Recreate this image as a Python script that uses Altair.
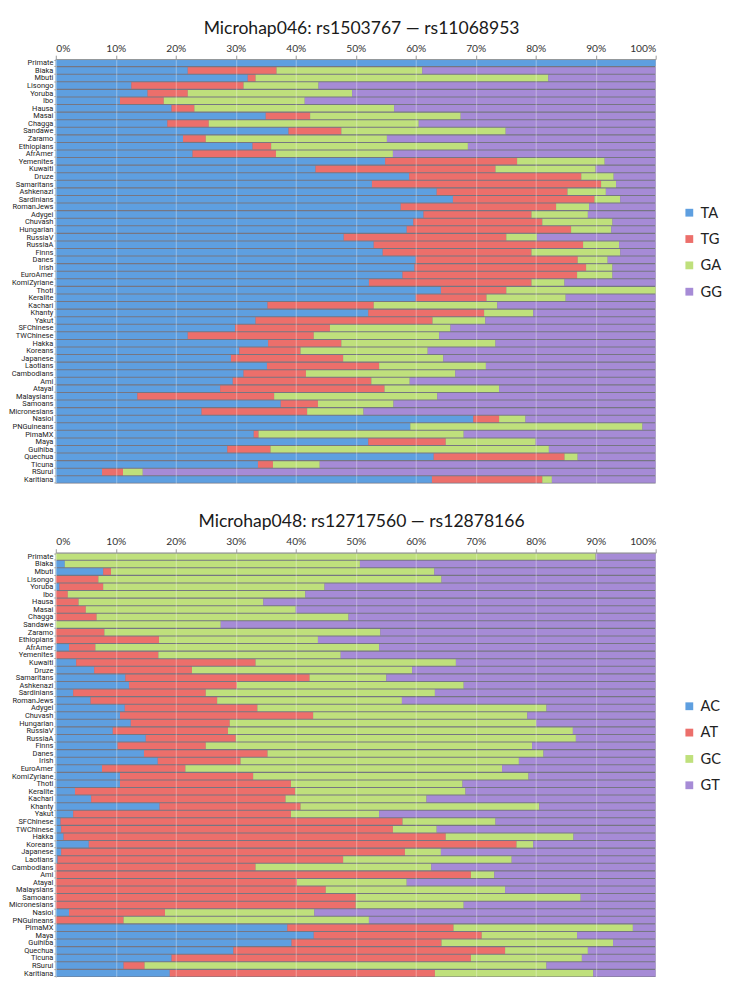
import altair as alt
import pandas as pd


populations = [
    "Primate", "Biaka", "Mbuti", "Lisongo", "Yoruba", "Ibo", "Hausa", "Masai", "Chagga", "Sandawe",
    "Zaramo", "Ethiopians", "AfrAmer", "Yemenites", "Kuwaiti", "Druze", "Samaritans", "Ashkenazi", "Sardinians", "RomanJews",
    "Adygei", "Chuvash", "Hungarian", "RussiaV", "RussiaA", "Finns", "Danes", "Irish", "EuroAmer", "KomiZyriane",
    "Thoti", "Keralite", "Kachari", "Khanty", "Yakut", "SFChinese", "TWChinese", "Hakka", "Koreans", "Japanese",
    "Laotians", "Cambodians", "Ami", "Atayal", "Malaysians", "Samoans", "Micronesians", "Nasioi", "PNGuineans", "PimaMX",
    "Maya", "Guihiba", "Quechua", "Ticuna", "RSurui", "Karitiana",
]

# Microhap046 - cumulative % where each haplotype ends (GG fills the rest)
m046_ta = [
    100, 22.0, 32.0, 12.6, 15.3, 10.7, 19.3, 35.0, 18.6, 38.8,
    21.2, 32.8, 22.8, 54.9, 43.3, 58.9, 52.7, 63.5, 66.2, 57.5,
    61.3, 59.6, 58.5, 48.0, 53.0, 54.5, 60.0, 59.8, 57.8, 52.2,
    64.2, 60.0, 35.3, 52.1, 33.3, 29.9, 22.0, 35.4, 30.6, 29.2,
    35.2, 31.3, 29.5, 27.4, 13.6, 37.5, 24.3, 69.6, 59.1, 33.0,
    52.1, 28.6, 63.0, 33.7, 7.7, 62.7,
]
m046_tg = [
    100, 36.8, 33.3, 31.3, 22.0, 18.0, 23.1, 42.4, 25.5, 47.6,
    25.0, 35.9, 36.7, 76.9, 73.3, 87.6, 90.9, 85.3, 89.8, 83.4,
    79.3, 81.1, 85.9, 75.1, 87.9, 79.3, 87.0, 88.4, 86.9, 79.3,
    75.1, 71.8, 53.0, 71.4, 62.8, 45.7, 43.0, 47.6, 40.8, 47.9,
    53.9, 41.7, 52.6, 54.8, 36.4, 43.7, 41.9, 73.9, 59.1, 33.8,
    65.0, 35.8, 84.8, 36.2, 11.2, 81.1,
]
m046_ga = [
    100, 61.1, 82.1, 43.8, 49.4, 41.5, 56.4, 67.5, 60.5, 75.0,
    55.2, 68.7, 56.2, 91.5, 90.0, 93.0, 93.4, 91.7, 94.1, 88.9,
    88.7, 92.8, 92.6, 80.2, 93.9, 94.1, 92.0, 92.8, 92.8, 84.8,
    100, 85.0, 73.6, 79.6, 71.6, 65.8, 63.9, 73.3, 62.0, 64.6,
    71.7, 66.6, 59.0, 73.9, 63.6, 56.3, 51.3, 78.3, 97.8, 68.0,
    80.0, 82.2, 87.0, 44.0, 14.5, 82.7,
]

# Microhap048 - cumulative % where each haplotype ends (GT fills the rest)
m048_ac = [
    0, 1.5, 7.9, 0, 0.6, 0, 0, 0, 0, 0,
    0, 0, 2.2, 0, 3.4, 6.4, 11.6, 12.2, 2.9, 5.8,
    11.5, 10.7, 12.5, 9.5, 15.0, 10.3, 14.7, 17.0, 7.7, 10.7,
    10.7, 3.2, 5.9, 17.3, 2.9, 0.8, 0.9, 1.3, 5.5, 0.9,
    0.3, 0, 0, 0, 0, 0, 0, 2.2, 0, 38.6,
    43.0, 39.3, 29.6, 19.3, 11.3, 19.0,
]
m048_at = [
    0, 1.5, 9.2, 7.1, 7.9, 2.0, 3.8, 5.0, 6.8, 0,
    8.1, 17.2, 6.6, 17.1, 33.3, 22.7, 42.3, 30.2, 25.0, 26.9,
    33.6, 42.9, 29.0, 28.7, 30.0, 25.0, 35.3, 30.8, 21.6, 32.9,
    39.2, 39.9, 38.3, 40.8, 39.2, 57.8, 56.2, 65.0, 76.8, 58.2,
    47.9, 33.3, 69.2, 40.2, 45.0, 50.0, 50.0, 18.2, 11.3, 66.3,
    71.0, 64.3, 74.9, 69.2, 14.8, 63.2,
]
m048_gc = [
    90.0, 50.7, 63.1, 64.3, 44.8, 41.6, 34.6, 40.0, 48.8, 27.5,
    54.1, 43.7, 53.9, 47.5, 66.7, 59.4, 55.1, 68.0, 63.2, 57.7,
    81.8, 78.6, 80.1, 86.2, 86.7, 79.4, 81.3, 77.2, 74.4, 78.8,
    67.8, 68.3, 61.8, 80.6, 53.9, 73.3, 63.5, 86.3, 79.6, 64.2,
    76.0, 62.6, 73.1, 58.5, 74.9, 87.5, 68.0, 43.1, 52.2, 96.2,
    86.9, 92.9, 88.7, 87.7, 81.8, 89.6,
]

alleles_046 = ["TA", "TG", "GA", "GG"]
alleles_048 = ["AC", "AT", "GC", "GT"]
colors = ["#5e9fe0", "#ec6f6b", "#bfe07c", "#a68bd6"]


def build_rows(ends, alleles):
    rows = []
    for i, pop in enumerate(populations):
        start = 0
        for allele, series in zip(alleles, ends + [None]):
            end = 100 if series is None else series[i]
            rows.append({"pop": pop, "allele": allele, "start": start, "end": end})
            start = end
    return pd.DataFrame(rows)


def panel(df, alleles, title):
    return (
        alt.Chart(df, title=alt.Title(title, fontSize=18, font="Lato", fontWeight="normal",
                                      color="#1a1a1a", offset=6, dx=6))
        .mark_bar()
        .encode(
            x=alt.X(
                "start:Q",
                scale=alt.Scale(domain=[0, 100], nice=False),
                axis=alt.Axis(
                    orient="top", values=list(range(0, 101, 10)), labelExpr="datum.value + '%'",
                    title=None, labelFontSize=10.5, labelFont="Lato", labelColor="#333",
                    tickSize=4, tickColor="#999", domainColor="#999", labelPadding=2,
                    gridColor="#ffffff", gridOpacity=0.35, zindex=1,
                ),
            ),
            x2="end:Q",
            y=alt.Y(
                "pop:N", sort=populations, title=None,
                scale=alt.Scale(paddingInner=0.14, paddingOuter=0.07),
                axis=alt.Axis(
                    labelFontSize=7.6, labelFont="Roboto", labelColor="#222", labelPadding=1,
                    tickSize=2, tickBand="extent", tickColor="#999", domainColor="#999", grid=False,
                ),
            ),
            color=alt.Color(
                "allele:N",
                scale=alt.Scale(domain=alleles, range=colors),
                legend=alt.Legend(
                    title=None, orient="none", legendX=642, legendY=150,
                    symbolType="square", symbolSize=64, symbolStrokeWidth=0,
                    labelFontSize=15, labelFont="Lato", labelColor="#222", rowPadding=11,
                ),
            ),
            tooltip=["pop:N", "allele:N", "start:Q", "end:Q"],
        )
        .properties(width=615, height=435)
    )


top = panel(build_rows([m046_ta, m046_tg, m046_ga], alleles_046), alleles_046,
            "Microhap046: rs1503767 \u2014 rs11068953")
bottom = panel(build_rows([m048_ac, m048_at, m048_gc], alleles_048), alleles_048,
               "Microhap048: rs12717560 \u2014 rs12878166")

chart = (
    alt.vconcat(top, bottom, spacing=31)
    .resolve_scale(color="independent")
    .properties(padding={"left": 0, "right": 0, "top": 0, "bottom": 0})
    .configure_view(stroke=None, fill="#767682")
)

chart.save("out.html", embed_options={"renderer": "svg", "actions": False})
